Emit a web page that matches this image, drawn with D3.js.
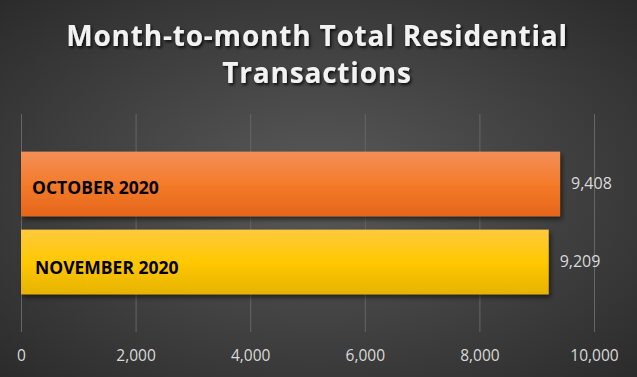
<!DOCTYPE html>
<html>
<head>
<meta charset="utf-8">
<script src="https://cdn.jsdelivr.net/npm/d3@7"></script>
<style>
  html, body { margin: 0; padding: 0; background: #2e2e2e; }
  svg { display: block; }
</style>
</head>
<body>
<div id="chart"></div>
<script>
const months = ['OCTOBER 2020', 'NOVEMBER 2020'];
const transactions = [9408, 9209];
const tickValues = [0, 2000, 4000, 6000, 8000, 10000];
const titleLines = ['Month-to-month Total Residential', 'Transactions'];

const width = 637;
const height = 377;
const plot = {left: 21, right: 594, top: 114, bottom: 332};

const svg = d3.select('#chart')
    .append('svg')
    .attr('width', width)
    .attr('height', height);

const defs = svg.append('defs');

// background: radial grey, lighter in the middle
let bg = defs.append('radialGradient')
    .attr('id', 'bg')
    .attr('cx', '50%').attr('cy', '50%').attr('r', '75%');
bg.append('stop').attr('offset', '0%').attr('stop-color', '#5a5a5a');
bg.append('stop').attr('offset', '100%').attr('stop-color', '#282828');

function barGradient(id, stops) {
    let g = defs.append('linearGradient')
        .attr('id', id)
        .attr('x1', 0).attr('y1', 0).attr('x2', 0).attr('y2', 1);
    stops.forEach(s => g.append('stop').attr('offset', s[0]).attr('stop-color', s[1]));
}
barGradient('orange', [['0%', '#f38f58'], ['50%', '#f47b2a'], ['100%', '#e5661a']]);
barGradient('yellow', [['0%', '#ffc93f'], ['50%', '#ffc800'], ['100%', '#e6b300']]);
const fills = ['url(#orange)', 'url(#yellow)'];

let shadow = defs.append('filter').attr('id', 'shadow')
    .attr('x', '-10%').attr('y', '-20%').attr('width', '130%').attr('height', '150%');
shadow.append('feDropShadow')
    .attr('dx', 2).attr('dy', 3).attr('stdDeviation', 2.5)
    .attr('flood-color', '#000').attr('flood-opacity', 0.55);

let textShadow = defs.append('filter').attr('id', 'tshadow')
    .attr('x', '-5%').attr('y', '-20%').attr('width', '110%').attr('height', '150%');
textShadow.append('feDropShadow')
    .attr('dx', 1.5).attr('dy', 2).attr('stdDeviation', 1.5)
    .attr('flood-color', '#000').attr('flood-opacity', 0.8);

svg.append('rect')
    .attr('width', width).attr('height', height)
    .attr('fill', 'url(#bg)');

// title
svg.append('g').selectAll('text').data(titleLines).enter()
    .append('text')
    .attr('x', 317)
    .attr('y', (d, i) => 46 + i * 37)
    .attr('text-anchor', 'middle')
    .attr('filter', 'url(#tshadow)')
    .style('font-family', 'Open Sans, sans-serif')
    .style('font-weight', 'bold')
    .style('font-size', '28px')
    .style('letter-spacing', '0.8px')
    .style('fill', '#f2f2f2')
    .text(d => d);

let x = d3.scaleLinear()
    .domain([0, 10000])
    .range([plot.left, plot.right]);

let y = d3.scaleBand()
    .domain(months)
    .range([145, 301])
    .paddingInner(0.17)
    .paddingOuter(0.085);

// grid + tick labels
let xAxis = svg.append('g')
    .attr('transform', `translate(0, ${plot.bottom})`)
    .call(d3.axisBottom(x)
        .tickValues(tickValues)
        .tickSize(-(plot.bottom - plot.top))
        .tickPadding(18)
        .tickFormat(d3.format(',')));
xAxis.select('.domain').remove();
xAxis.selectAll('.tick line')
    .attr('stroke', '#666')
    .attr('stroke-width', 1);
xAxis.selectAll('.tick text')
    .style('font-family', 'Open Sans, sans-serif')
    .style('font-size', '15.5px')
    .style('fill', '#d9d9d9');

const data = months.map((m, i) => ({month: m, value: transactions[i]}));

svg.append('g').selectAll('rect').data(data).enter()
    .append('rect')
    .attr('x', x(0))
    .attr('y', d => y(d.month))
    .attr('width', d => x(d.value) - x(0))
    .attr('height', y.bandwidth())
    .attr('fill', (d, i) => fills[i])
    .attr('filter', 'url(#shadow)');

// category labels inside bars
svg.append('g').selectAll('text').data(data).enter()
    .append('text')
    .attr('x', (d, i) => x(0) + 11 + i * 3)
    .attr('y', (d, i) => y(d.month) + y.bandwidth() / 2 + 10 + i * 2)
    .style('font-family', 'Open Sans, sans-serif')
    .style('font-weight', 'bold')
    .style('font-size', '17.5px')
    .style('fill', '#000')
    .text(d => d.month);

// value labels
svg.append('g').selectAll('text').data(data).enter()
    .append('text')
    .attr('x', d => x(d.value) + 11)
    .attr('y', d => y(d.month) + y.bandwidth() / 2 + 5)
    .style('font-family', 'Open Sans, sans-serif')
    .style('font-size', '16px')
    .style('fill', '#d9d9d9')
    .text(d => d3.format(',')(d.value));
</script>
</body>
</html>
